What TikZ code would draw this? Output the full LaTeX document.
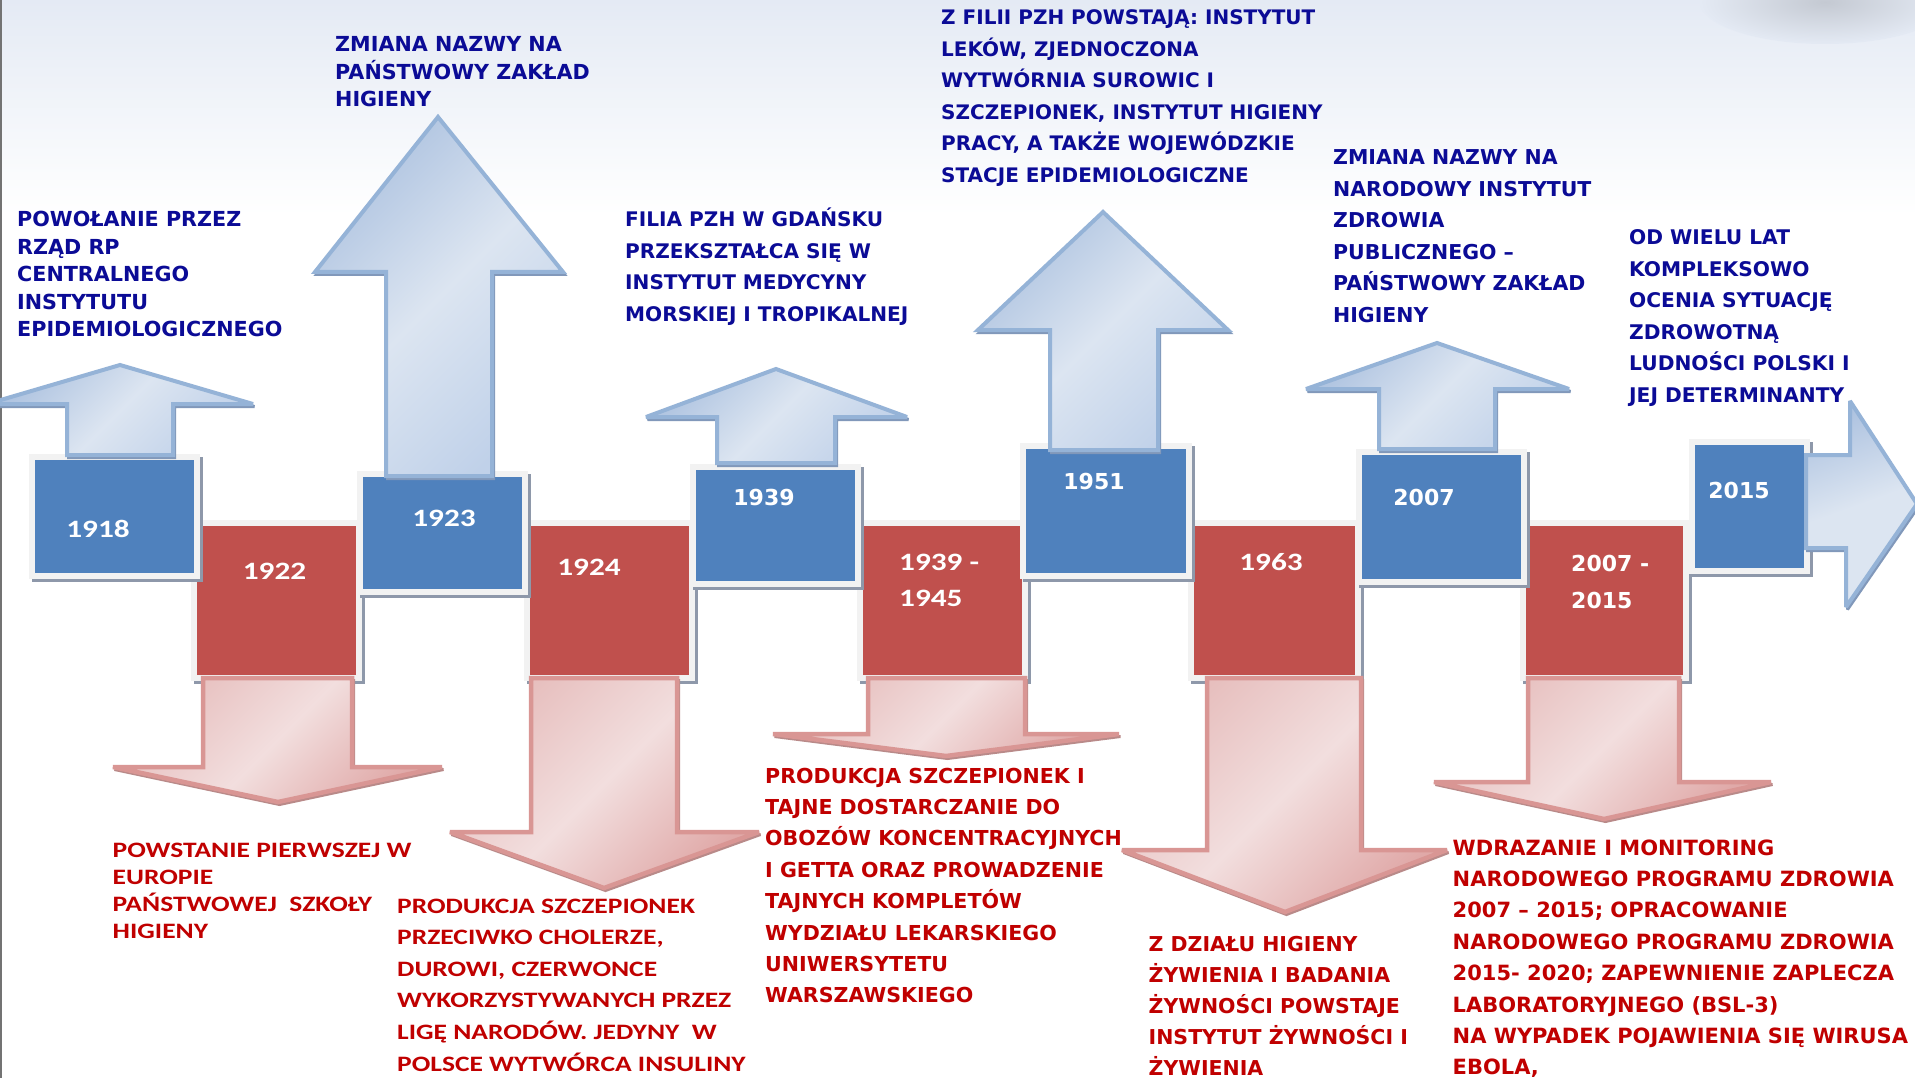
\documentclass[tikz,border=0pt]{standalone}
\usepackage{fontspec}
\usetikzlibrary{shadows}
\newfontfamily\vfont{DejaVu Sans}
\newfontfamily\cfont[FakeStretch=1.25]{Carlito}
\definecolor{boxblue}{HTML}{4F81BD}
\definecolor{boxred}{HTML}{C0504D}
\definecolor{txtblue}{HTML}{0B0B96}
\definecolor{txtred}{HTML}{C00000}
\definecolor{framegray}{HTML}{F2F2F2}
\definecolor{shadowgray}{HTML}{8E98AA}
\definecolor{arrbluedraw}{HTML}{95B3D7}
\definecolor{arrbluelt}{HTML}{DCE5F1}
\definecolor{arrbluebl}{HTML}{AEC3E0}
\definecolor{arrbluetr}{HTML}{C0D1E9}
\definecolor{arrblueshadow}{HTML}{8198BA}
\definecolor{arrreddraw}{HTML}{D99694}
\definecolor{arrredlt}{HTML}{F2DEDE}
\definecolor{arrredbl}{HTML}{E6BDBC}
\definecolor{arrredtr}{HTML}{E0A9A8}
\definecolor{arrredshadow}{HTML}{B98A89}
\definecolor{bgtop}{HTML}{E4EAF4}
\definecolor{blobgray}{HTML}{C4C9D2}
\begin{document}
\begin{tikzpicture}[x=1pt,y=-1pt,
  yearbox/.style={draw=framegray, line width=6pt, inner sep=0pt,
    general shadow={shadow xshift=2.5pt, shadow yshift=-3pt, fill=shadowgray, draw=shadowgray, line width=6pt}},
  bluebox/.style={yearbox, fill=boxblue},
  redbox/.style={yearbox, fill=boxred},
  cyear/.style={anchor=base, inner sep=0pt, text=white, font=\cfont\bfseries\fontsize{25}{30}\selectfont},
  vyear/.style={anchor=base, inner sep=0pt, text=white, font=\vfont\bfseries\fontsize{22}{30}\selectfont},
  vyearl/.style={anchor=base west, inner sep=0pt, text=white, font=\vfont\bfseries\fontsize{22}{30}\selectfont},
  cyearl/.style={anchor=base west, inner sep=0pt, text=white, font=\cfont\bfseries\fontsize{25}{30}\selectfont},
  btext/.style={anchor=base west, inner sep=0pt, text=txtblue, font=\vfont\bfseries},
  rvtext/.style={anchor=base west, inner sep=0pt, text=txtred, font=\vfont\bfseries},
  rctext/.style={anchor=base west, inner sep=0pt, text=txtred, font=\cfont\bfseries},
  bluearrow/.style={draw=arrbluedraw, line width=4pt, miter limit=3, left color=arrbluebl, right color=arrbluetr, middle color=arrbluelt, shading angle=45},
  bluearrowshadow/.style={draw=arrblueshadow, line width=3pt, miter limit=3, xshift=1.5pt, yshift=-2.5pt},
  redarrow/.style={draw=arrreddraw, line width=4.5pt, miter limit=3, left color=arrredbl, right color=arrredtr, middle color=arrredlt, shading angle=45},
  redarrowshadow/.style={draw=arrredshadow, line width=3pt, miter limit=3, xshift=1.5pt, yshift=-2.5pt}
]
\useasboundingbox (0,0) rectangle (1915,1078);
\begin{scope}
\clip (0,0) rectangle (1915,1078);
\fill[white] (0,0) rectangle (1915,1078);
\shade[top color=bgtop, bottom color=white] (0,0) rectangle (1915,215);
\shade[inner color=blobgray, outer color=bgtop] (1825,2) ellipse [x radius=125pt, y radius=42pt];
\draw[line width=2pt, black!55] (1,0) -- (1,1078);

% red boxes
\node[redbox, minimum width=165pt, minimum height=155pt] (b1922) at (276.5,600.5) {};
\node[redbox, minimum width=165pt, minimum height=155pt] (b1924) at (609.5,600.5) {};
\node[redbox, minimum width=165pt, minimum height=155pt] (b1939w) at (942.5,600.5) {};
\node[redbox, minimum width=167pt, minimum height=155pt] (b1963) at (1274.5,600.5) {};
\node[redbox, minimum width=163pt, minimum height=155pt] (b2007w) at (1604.5,600.5) {};

% blue boxes
\node[bluebox, minimum width=165pt, minimum height=119pt] (b1918) at (114.5,516.5) {};
\node[bluebox, minimum width=165pt, minimum height=118pt] (b1923) at (442.5,533) {};
\node[bluebox, minimum width=165pt, minimum height=117pt] (b1939) at (775.5,525.5) {};
\node[bluebox, minimum width=166pt, minimum height=130pt] (b1951) at (1106,511) {};
\node[bluebox, minimum width=165pt, minimum height=130pt] (b2007) at (1441.5,517) {};
\node[bluebox, minimum width=115pt, minimum height=129pt] (b2015) at (1749.5,506.5) {};

% blue up arrows
\foreach \sl/\sr/\yb/\hb/\hl/\hr/\tx/\ty in {
  67/173/455/404/-13/253/120/365,
  386/492/476/272/315/563/438/117,
  717/835/463/417/646/907/776/369,
  1050/1158/450/330/978/1228/1103/212,
  1379/1495/449/389/1306/1569/1437/343}{
  \draw[bluearrowshadow] (\sl,\yb) -- (\sl,\hb) -- (\hl,\hb) -- (\tx,\ty) -- (\hr,\hb) -- (\sr,\hb) -- (\sr,\yb) -- cycle;
  \shadedraw[bluearrow] (\sl,\yb) -- (\sl,\hb) -- (\hl,\hb) -- (\tx,\ty) -- (\hr,\hb) -- (\sr,\hb) -- (\sr,\yb) -- cycle;
}
% right arrow after 2015
\draw[bluearrowshadow] (1806,455) -- (1850,455) -- (1850,401) -- (1917,504) -- (1846,607) -- (1846,548) -- (1806,548) -- cycle;
\shadedraw[draw=arrbluedraw, line width=4pt, miter limit=3, left color=arrbluebl, right color=arrbluelt, middle color=arrbluelt, shading angle=20]
  (1806,455) -- (1850,455) -- (1850,401) -- (1917,504) -- (1846,607) -- (1846,548) -- (1806,548) -- cycle;

% red down arrows
\foreach \sl/\sr/\yt/\hb/\hl/\hr/\tx/\ty in {
  203/352/678/767/113/442/278/802,
  531/677/678/832/450/759/604/888,
  868/1025/678/734/773/1119/946/756,
  1207/1361/678/850/1122/1447/1285/912,
  1528/1679/678/782/1434/1771/1604/819}{
  \draw[redarrowshadow] (\sl,\yt) -- (\sr,\yt) -- (\sr,\hb) -- (\hr,\hb) -- (\tx,\ty) -- (\hl,\hb) -- (\sl,\hb) -- cycle;
  \shadedraw[redarrow] (\sl,\yt) -- (\sr,\yt) -- (\sr,\hb) -- (\hr,\hb) -- (\tx,\ty) -- (\hl,\hb) -- (\sl,\hb) -- cycle;
}

% year labels
\node[cyear] (y1918) at (98,537) {1918};
\node[cyear] (y1922) at (274.5,579) {1922};
\node[cyear] (y1923) at (444,526) {1923};
\node[cyear] (y1924) at (589,575) {1924};
\node[vyear] (y1939) at (764,505) {1939};
\node[cyearl] (y1939a) at (899,570) {1939 -};
\node[cyearl] (y1939b) at (899,606) {1945};
\node[vyear] (y1951) at (1094,489) {1951};
\node[cyear] (y1963) at (1271,570) {1963};
\node[vyear] (y2007) at (1424,505) {2007};
\node[vyearl] (y2007a) at (1571,571) {2007 -};
\node[vyearl] (y2007b) at (1571,608) {2015};
\node[vyear] (y2015) at (1739,498) {2015};

% blue descriptions
\node[btext] (t1) at (17,227) {\parbox[t]{500pt}{\fontsize{20.7}{27.5}\selectfont\raggedright
  POWOŁANIE PRZEZ\\RZĄD RP\\CENTRALNEGO\\INSTYTUTU\\EPIDEMIOLOGICZNEGO}};
\node[btext] (t2) at (335,52) {\parbox[t]{500pt}{\fontsize{20.7}{27.5}\selectfont\raggedright
  ZMIANA NAZWY NA\\PAŃSTWOWY ZAKŁAD\\HIGIENY}};
\node[btext] (t3) at (625,227) {\parbox[t]{500pt}{\fontsize{20.1}{31.5}\selectfont\raggedright
  FILIA PZH W GDAŃSKU\\PRZEKSZTAŁCA SIĘ W\\INSTYTUT MEDYCYNY\\MORSKIEJ I TROPIKALNEJ}};
\node[btext] (t4) at (941,25) {\parbox[t]{500pt}{\fontsize{20}{31.5}\selectfont\raggedright
  Z FILII PZH POWSTAJĄ: INSTYTUT\\LEKÓW, ZJEDNOCZONA\\WYTWÓRNIA SUROWIC I\\SZCZEPIONEK, INSTYTUT HIGIENY\\PRACY, A TAKŻE WOJEWÓDZKIE\\STACJE EPIDEMIOLOGICZNE}};
\node[btext] (t5) at (1333,165) {\parbox[t]{500pt}{\fontsize{20.5}{31.5}\selectfont\raggedright
  ZMIANA NAZWY NA\\NARODOWY INSTYTUT\\ZDROWIA\\PUBLICZNEGO –\\PAŃSTWOWY ZAKŁAD\\HIGIENY}};
\node[btext] (t6) at (1629,245) {\parbox[t]{500pt}{\fontsize{20.2}{31.5}\selectfont\raggedright
  OD WIELU LAT\\KOMPLEKSOWO\\OCENIA SYTUACJĘ\\ZDROWOTNĄ\\LUDNOŚCI POLSKI I\\JEJ DETERMINANTY}};

% red descriptions
\node[rctext] (r1) at (112.5,857) {\parbox[t]{500pt}{\fontsize{22}{27}\selectfont\raggedright
  POWSTANIE PIERWSZEJ W\\EUROPIE\\PAŃSTWOWEJ\ \ SZKOŁY\\HIGIENY}};
\node[rctext] (r2) at (397,913) {\parbox[t]{500pt}{\fontsize{22}{31.6}\selectfont\raggedright
  PRODUKCJA SZCZEPIONEK\\PRZECIWKO CHOLERZE,\\DUROWI, CZERWONCE\\WYKORZYSTYWANYCH PRZEZ\\LIGĘ NARODÓW. JEDYNY\ \ W\\POLSCE WYTWÓRCA INSULINY}};
\node[rvtext] (r3) at (765,783) {\parbox[t]{500pt}{\fontsize{20.6}{31.4}\selectfont\raggedright
  PRODUKCJA SZCZEPIONEK I\\TAJNE DOSTARCZANIE DO\\OBOZÓW KONCENTRACYJNYCH\\I GETTA ORAZ PROWADZENIE\\TAJNYCH KOMPLETÓW\\WYDZIAŁU LEKARSKIEGO\\UNIWERSYTETU\\WARSZAWSKIEGO}};
\node[rvtext] (r4) at (1148.5,951) {\parbox[t]{500pt}{\fontsize{20.5}{31}\selectfont\raggedright
  Z DZIAŁU HIGIENY\\ŻYWIENIA I BADANIA\\ŻYWNOŚCI POWSTAJE\\INSTYTUT ŻYWNOŚCI I\\ŻYWIENIA}};
\node[rvtext] (r5) at (1452.5,855) {\parbox[t]{500pt}{\fontsize{21}{31.4}\selectfont\raggedright
  WDRAZANIE I MONITORING\\NARODOWEGO PROGRAMU ZDROWIA\\2007 – 2015; OPRACOWANIE\\NARODOWEGO PROGRAMU ZDROWIA\\2015- 2020; ZAPEWNIENIE ZAPLECZA\\LABORATORYJNEGO (BSL-3)\\NA WYPADEK POJAWIENIA SIĘ WIRUSA\\EBOLA,}};
\end{scope}
\end{tikzpicture}
\end{document}
